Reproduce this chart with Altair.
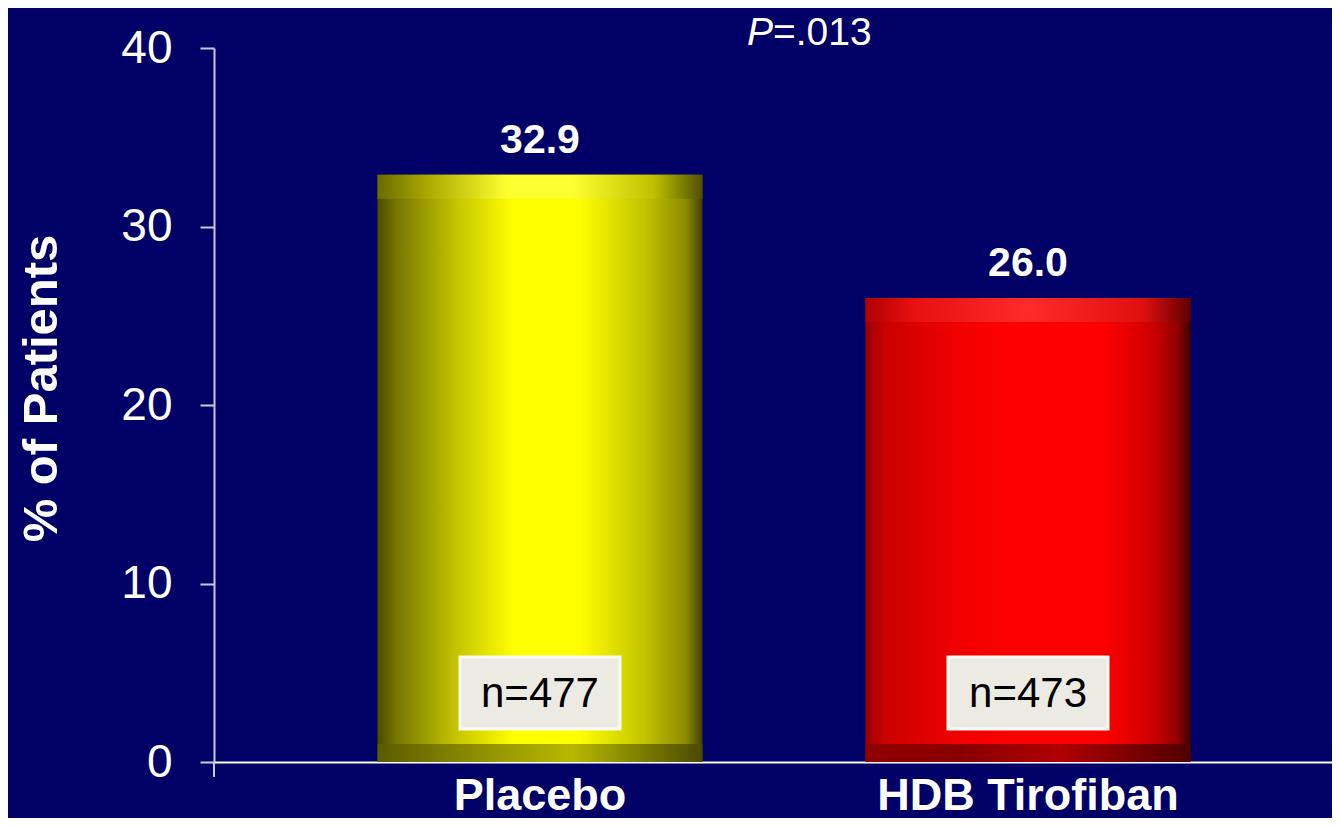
import altair as alt
import pandas as pd

categories = ["Placebo", "HDB Tirofiban"]
values = [32.9, 26.0]
value_labels = ["32.9", "26.0"]
n_labels = ["n=477", "n=473"]
y_ticks = [0, 10, 20, 30, 40]

df = pd.DataFrame({"group": categories, "pct": values, "lab": value_labels, "n": n_labels})

FONT = "Liberation Sans, Arial, Helvetica, sans-serif"
BG = "#000066"


def grad(stops, horizontal=True):
    return alt.Gradient(
        gradient="linear",
        stops=[alt.GradientStop(color=c, offset=o) for o, c in stops],
        x1=0, x2=1 if horizontal else 0, y1=0, y2=0 if horizontal else 1,
    )


yellow_main = grad([(0, "#4a4a00"), (0.06, "#777700"), (0.25, "#c8c800"), (0.42, "#ffff00"),
                    (0.62, "#ffff00"), (0.82, "#c4c400"), (0.95, "#8a8a00"), (1, "#404000")])
yellow_top = grad([(0, "#6a6a00"), (0.15, "#a8a800"), (0.4, "#ffff30"), (0.6, "#ffff30"),
                   (0.85, "#c0c000"), (1, "#505000")])
yellow_bot = grad([(0, "#5a5a00"), (0.3, "#8d8d00"), (0.6, "#b8b800"), (1, "#4a4a00")])

red_main = grad([(0, "#9a0000"), (0.06, "#cc0000"), (0.3, "#f20000"), (0.45, "#ff0000"),
                 (0.72, "#ff0000"), (0.88, "#d00000"), (0.96, "#900000"), (1, "#400000")])
red_top = grad([(0, "#b00000"), (0.15, "#e81010"), (0.5, "#ff2a2a"), (0.85, "#e01010"), (1, "#600000")])
red_bot = grad([(0, "#900000"), (0.3, "#8a0000"), (0.6, "#b00000"), (1, "#500000")])

xscale = alt.Scale(domain=categories, range=[0, 1140], paddingInner=0.334, paddingOuter=0.335)
yscale = alt.Scale(domain=[0, 40], nice=False)

x_enc = alt.X(
    "group:N", scale=xscale, sort=categories, title=None,
    axis=alt.Axis(labelAngle=0, labelFont=FONT, labelFontSize=45, labelFontWeight="bold",
                  labelColor="white", labelPadding=11, ticks=False, domainColor="white",
                  domainWidth=2, labelBaseline="top", labelLimit=1000),
)
y_enc = alt.Y(
    "pct:Q", scale=yscale, title="% of Patients",
    axis=alt.Axis(values=y_ticks, grid=False, labelFont=FONT, labelFontSize=46,
                  labelColor="white", labelPadding=28, tickSize=14, tickColor="#c8c8e0",
                  tickWidth=2, domainColor="#c8c8e0", domainWidth=2,
                  titleFont=FONT, titleFontSize=49, titleFontWeight="bold", titleColor="white",
                  titlePadding=54, titleY=340),
)

base = alt.Chart(df)


def bar_layers(cat, main, top, bot):
    d = base.transform_filter(alt.datum.group == cat)
    m = d.mark_bar(color=main).encode(x=x_enc, y=y_enc, y2=alt.datum(0))
    t = d.mark_bar(color=top, y2Offset=24).encode(x=x_enc, y="pct:Q", y2="pct:Q")
    b = d.mark_bar(color=bot, yOffset=-18).encode(x=x_enc, y=alt.datum(0), y2=alt.datum(0))
    return [m, t, b]


layers = bar_layers("Placebo", yellow_main, yellow_top, yellow_bot) + \
    bar_layers("HDB Tirofiban", red_main, red_top, red_bot)

box = base.mark_bar(color="#ecebe3", width=160, stroke="#fbfbf6", strokeWidth=3).encode(
    x=x_enc, y=alt.value(609), y2=alt.value(681))
ntext = base.mark_text(font=FONT, fontSize=42, color="black", baseline="middle").encode(
    x=x_enc, y=alt.value(646), text="n:N")
vtext = base.mark_text(font=FONT, fontSize=41, fontWeight="bold", color="white",
                       baseline="alphabetic", dy=-22).encode(x=x_enc, y="pct:Q", text="lab:N")
ext = base.mark_rule(color="#c8c8e0", strokeWidth=2).encode(
    x=alt.value(0), y=alt.value(714), y2=alt.value(729))
p_it = alt.Chart(pd.DataFrame({"t": ["P"]})).mark_text(
    font=FONT, fontSize=39, fontStyle="italic", color="white", align="right",
    baseline="alphabetic").encode(x=alt.value(559), y=alt.value(-3), text="t:N")
p_rest = alt.Chart(pd.DataFrame({"t": ["=.013"]})).mark_text(
    font=FONT, fontSize=39, color="white", align="left",
    baseline="alphabetic").encode(x=alt.value(559), y=alt.value(-3), text="t:N")

chart = alt.layer(*layers, box, ntext, vtext, ext, p_it, p_rest).properties(
    width=1118, height=714, background=BG,
    padding={"left": 206, "top": 40, "right": 0, "bottom": 56},
    autosize=alt.AutoSizeParams(type="none"),
).configure_view(stroke=None)

chart.save("out.html", embed_options={"renderer": "svg", "actions": False})
